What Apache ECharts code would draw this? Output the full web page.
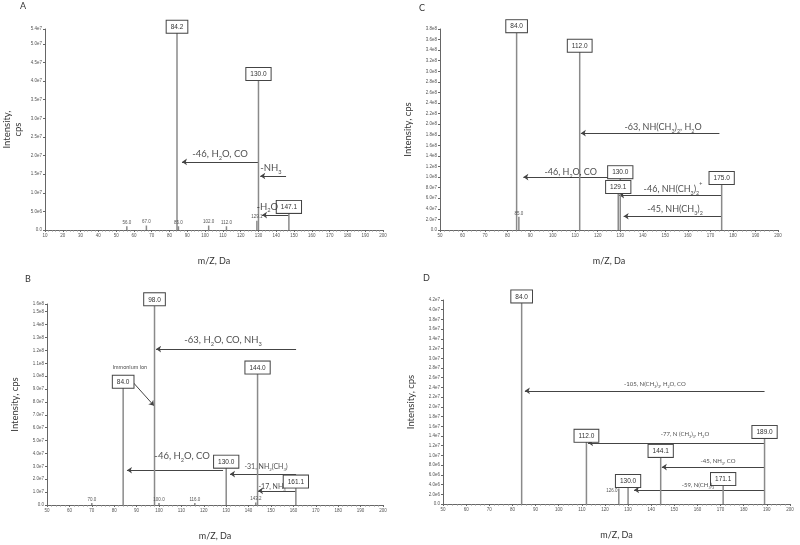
<!DOCTYPE html>
<html>
<head>
<meta charset="utf-8">
<script src="https://cdn.jsdelivr.net/npm/echarts@6/dist/echarts.min.js"></script>
<style>
  html, body { margin: 0; padding: 0; background: #fff; }
  #chart { width: 800px; height: 545px; }
</style>
</head>
<body>
<div id="chart"></div>
<script>
// panel A
const aMz = [56.0, 67.0, 84.2, 85.0, 102.0, 112.0, 129.1, 130.0, 147.1]
const aInt = [1.0e6, 1.2e6, 5.3e7, 1.0e6, 1.2e6, 1.0e6, 2.5e6, 4.03e7, 4.6e6]
const aBoxed = [0, 0, 1, 0, 0, 0, 0, 1, 1]
// panel B
const bMz = [70.0, 84.0, 98.0, 100.0, 116.0, 130.0, 143.2, 144.0, 161.1]
const bInt = [1.5e6, 9.1e7, 1.55e8, 1.5e6, 1.5e6, 2.9e7, 2.0e6, 1.02e8, 1.35e7]
const bBoxed = [0, 1, 1, 0, 0, 1, 0, 1, 1]
// panel C
const cMz = [84.0, 85.0, 112.0, 129.1, 130.0, 175.0]
const cInt = [3.74e8, 2.5e7, 3.37e8, 7.0e7, 9.8e7, 8.7e7]
const cBoxed = [1, 0, 1, 1, 1, 1]
// panel D
const dMz = [84.0, 112.0, 126.0, 130.0, 144.1, 171.1, 189.0]
const dInt = [4.15e7, 1.28e7, 3.2e6, 3.5e6, 9.7e6, 3.9e6, 1.36e7]
const dBoxed = [1, 1, 0, 1, 1, 1, 1]

// arrows: [from m/z, to m/z, intensity]
const aArrows = [[130, 87, 1.83e7], [145.5, 131, 1.45e7], [147.1, 132, 4.0e6]]
const bArrows = [[161.2, 98.7, 1.21e8], [128.6, 85.7, 2.7e7], [161.2, 131.7, 2.4e7], [161.2, 144.2, 1.1e7]]
const cArrows = [[174, 112.5, 1.83e8], [125.5, 87, 1.0e8], [175, 129.5, 6.6e7], [175, 131.5, 2.6e7]]
const dArrows = [[189, 85.4, 2.33e7], [189, 112.7, 1.26e7], [189, 144.6, 7.6e6], [189, 132.6, 2.9e6]]

// annotation texts: [text, m/z, intensity, fontSize]  ({s|..} = subscript, {p|..} = superscript)
const aNotes = [['-46, H{s|2}O, CO', 108.4, 2.04e7, 9.5], ['-NH{s|3}', 137, 1.67e7, 9.5], ['-H{s|2}O', 135, 6.3e6, 9.5]]
const bNotes = [['-63, H{s|2}O, CO, NH{s|3}', 128.6, 1.28e8, 9.5], ['Immonium ion', 87, 1.07e8, 5.5],
  ['-46, H{s|2}O, CO', 110.3, 3.8e7, 9.5], ['-31, NH{s|2}(CH{s|3})', 147.8, 3.0e7, 7], ['-17, NH{s|3}', 150.5, 1.43e7, 7]]
const cNotes = [['-63, NH(CH{s|3}){s|2}, H{s|2}O', 149, 1.95e8, 9], ['-46, H{s|2}O, CO', 108, 1.1e8, 9],
  ['-46, NH(CH{s|3}){s|2}{p|+}', 153.4, 7.75e7, 9], ['-45, NH(CH{s|3}){s|2}', 154.3, 4.0e7, 9]]
const dNotes = [['-105, N(CH{s|3}){s|3}, H{s|2}O, CO', 141.6, 2.47e7, 6], ['-77, N (CH{s|3}){s|3}, H{s|2}O', 154.6, 1.44e7, 6],
  ['-45, NH{s|3}, CO', 168.9, 8.85e6, 6], ['-59, N(CH{s|3}){s|3}', 160.2, 3.9e6, 6]]

// immonium ion pointer in B
const bPointer = [[86.2, 9.95e7], [97.8, 7.7e7]]

const panels = [
  { letter: 'A', mz: aMz, ints: aInt, boxed: aBoxed, arrows: aArrows, notes: aNotes, xmin: 10, ymax: 5.4e7, yint: 5e6, yname: 'Intensity,\ncps',
    grid: { left: 45, top: 29, width: 338, height: 201 } },
  { letter: 'C', mz: cMz, ints: cInt, boxed: cBoxed, arrows: cArrows, notes: cNotes, xmin: 50, ymax: 3.8e8, yint: 2e7, yname: 'Intensity, cps',
    grid: { left: 440, top: 29, width: 338, height: 201 } },
  { letter: 'B', mz: bMz, ints: bInt, boxed: bBoxed, arrows: bArrows, notes: bNotes, xmin: 50, ymax: 1.56e8, yint: 1e7, yname: 'Intensity, cps',
    grid: { left: 47, top: 304, width: 336, height: 201 } },
  { letter: 'D', mz: dMz, ints: dInt, boxed: dBoxed, arrows: dArrows, notes: dNotes, xmin: 50, ymax: 4.2e7, yint: 2e6, yname: 'Intensity, cps',
    grid: { left: 443, top: 300, width: 347, height: 204 } }
]

const fmtY = v => v === 0 ? '0.0' : v.toExponential(1).replace('e+', 'e')

const boxLabel = {
  show: true, position: 'top', distance: 0,
  formatter: p => p.value[0].toFixed(1),
  backgroundColor: '#fff', borderColor: '#444', borderWidth: 1, padding: [3, 4, 2, 4],
  fontSize: 6.5, color: '#333', fontFamily: 'Liberation Sans'
}
const smallLabel = {
  show: true, position: 'top', distance: 1,
  formatter: p => p.value[0].toFixed(1),
  fontSize: 4.5, color: '#555', fontFamily: 'Liberation Sans'
}

function noteLabel (text, size) {
  const lh = Math.round(size * 1.5)
  return {
    formatter: text, fontSize: size, lineHeight: lh,
    rich: {
      s: { fontSize: size * 0.6, lineHeight: lh, verticalAlign: 'bottom', fontFamily: 'Lato', color: '#222' },
      p: { fontSize: size * 0.6, lineHeight: lh, verticalAlign: 'top', fontFamily: 'Lato', color: '#222' }
    }
  }
}

const grids = [], xAxes = [], yAxes = [], series = []
panels.forEach((p, i) => {
  grids.push(p.grid)
  xAxes.push({
    gridIndex: i, type: 'value', min: p.xmin, max: 200, interval: 10,
    name: 'm/Z, Da', nameLocation: 'middle', nameGap: 27,
    nameTextStyle: { fontSize: 9, color: '#333', fontFamily: 'Lato' },
    axisLine: { onZero: false, lineStyle: { color: '#666' } },
    axisTick: { length: 2, lineStyle: { color: '#666' } },
    minorTick: { show: true, splitNumber: 5, length: 1.5, lineStyle: { color: '#888' } },
    axisLabel: { fontSize: 4.5, color: '#555', margin: 3, fontFamily: 'Liberation Sans' },
    splitLine: { show: false }
  })
  yAxes.push({
    gridIndex: i, type: 'value', min: 0, max: p.ymax, interval: p.yint,
    name: p.yname, nameLocation: 'middle', nameGap: p.letter === 'A' ? 22 : 27,
    nameTextStyle: { fontSize: 9.5, color: '#333', fontFamily: 'Lato', lineHeight: 11 },
    axisLine: { show: true, lineStyle: { color: '#666' } },
    axisTick: { show: true, length: 2, lineStyle: { color: '#666' } },
    axisLabel: { fontSize: 4.5, color: '#555', margin: 3, formatter: fmtY, fontFamily: 'Liberation Sans' },
    splitLine: { show: false }
  })
  series.push({
    type: 'bar', xAxisIndex: i, yAxisIndex: i, barWidth: 1.5,
    itemStyle: { color: '#8a8a8a' },
    data: p.mz.map((m, k) => {
      const item = { value: [m, p.ints[k]], label: p.boxed[k] ? boxLabel : smallLabel }
      if (p.letter === 'D' && !p.boxed[k]) item.label = Object.assign({}, smallLabel, { offset: [-7, 6] })
      return item
    })
  })
  series.push({
    type: 'lines', coordinateSystem: 'cartesian2d', xAxisIndex: i, yAxisIndex: i,
    symbol: ['none', 'arrow'], symbolSize: 5,
    lineStyle: { color: '#444', width: 1, opacity: 1 },
    data: p.arrows.map(a => ({ coords: [[a[0], a[2]], [a[1], a[2]]] }))
  })
  series.push({
    type: 'scatter', xAxisIndex: i, yAxisIndex: i, symbolSize: 1, silent: true,
    itemStyle: { color: 'rgba(0,0,0,0)' },
    label: { show: true, position: 'inside', color: '#222', fontFamily: 'Lato' },
    data: p.notes.map(n => ({ value: [n[1], n[2]], label: noteLabel(n[0], n[3]) }))
  })
})

// immonium ion pointer
series.push({
  type: 'lines', coordinateSystem: 'cartesian2d', xAxisIndex: 2, yAxisIndex: 2,
  symbol: ['none', 'arrow'], symbolSize: 5,
  lineStyle: { color: '#444', width: 1, opacity: 1 },
  data: [{ coords: bPointer }]
})

const chart = echarts.init(document.getElementById('chart'))
chart.setOption({
  animation: false,
  backgroundColor: '#fff',
  grid: grids,
  xAxis: xAxes,
  yAxis: yAxes,
  series: series,
  graphic: [
    { type: 'text', left: 20, top: 2, style: { text: 'A', fontSize: 9, fill: '#333', fontFamily: 'Lato' } },
    { type: 'text', left: 419, top: 4, style: { text: 'C', fontSize: 9, fill: '#333', fontFamily: 'Lato' } },
    { type: 'text', left: 25, top: 275, style: { text: 'B', fontSize: 9, fill: '#333', fontFamily: 'Lato' } },
    { type: 'text', left: 423, top: 274, style: { text: 'D', fontSize: 9, fill: '#333', fontFamily: 'Lato' } }
  ]
})
</script>
</body>
</html>
